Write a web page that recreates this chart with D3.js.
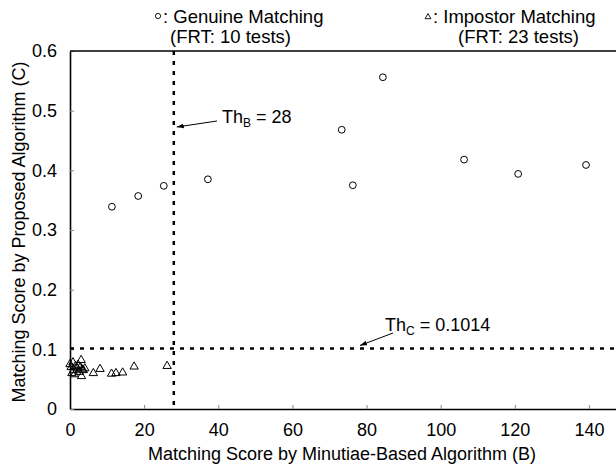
<!DOCTYPE html>
<html>
<head>
<meta charset="utf-8">
<script src="https://cdn.jsdelivr.net/npm/d3@7"></script>
<style>
  html, body { margin: 0; padding: 0; background: #fff; }
  svg { display: block; font-family: "Liberation Sans", Arial, sans-serif; }
</style>
</head>
<body>
<svg id="chart" width="616" height="464"></svg>
<script>
// 真实匹配 (Genuine)
const genuineB = [11.3, 18.4, 25.3, 37.2, 73.3, 76.3, 84.4, 106.3, 120.9, 139.2];
const genuineC = [0.339, 0.357, 0.374, 0.385, 0.468, 0.375, 0.556, 0.418, 0.394, 0.409];

// 冒名匹配 (Impostor)
const impostorB = [0, 0.3, 0.5, 0.8, 1, 1.2, 1.5, 2, 2.2, 2.5, 2.8, 3, 3.1, 3.3, 3.6, 4,
  6.3, 8.1, 11.2, 12.4, 14.2, 17.3, 26.2];
const impostorC = [0.075, 0.07, 0.06, 0.078, 0.065, 0.058, 0.072, 0.068, 0.074, 0.062, 0.07,
  0.082, 0.055, 0.066, 0.065, 0.068, 0.060, 0.067, 0.059, 0.060, 0.061, 0.071, 0.072];

const xTicks = [0, 20, 40, 60, 80, 100, 120, 140];
const yTicks = [0, 0.1, 0.2, 0.3, 0.4, 0.5, 0.6];
const thB = 28;
const thC = 0.1014;

const svg = d3.select('#chart');
const plotLeft = 70, plotTop = 51, plotBottom = 409;
const fontSize = 18;

const xScale = d3.scaleLinear().domain([0, 150]).range([plotLeft, plotLeft + 150 * 3.707]);
const yScale = d3.scaleLinear().domain([0, 0.6]).range([plotBottom, plotTop]);

// 坐标轴 (刻度朝内)
const xAxis = svg.append('g')
  .attr('transform', `translate(0,${plotBottom})`)
  .call(d3.axisBottom(xScale).tickValues(xTicks).tickSizeInner(-4).tickSizeOuter(0).tickPadding(14));
const yAxis = svg.append('g')
  .attr('transform', `translate(${plotLeft},0)`)
  .call(d3.axisLeft(yScale).tickValues(yTicks).tickSizeInner(-4).tickSizeOuter(0).tickPadding(13)
    .tickFormat(d => d === 0 ? '0' : d3.format('.1f')(d)));

[xAxis, yAxis].forEach(a => {
  a.select('.domain').attr('stroke', '#000').attr('stroke-width', 1.6);
  a.selectAll('.tick line').attr('stroke', '#888').attr('stroke-width', 1);
  a.selectAll('.tick text').attr('font-size', fontSize).attr('fill', '#000')
    .attr('font-family', '"Liberation Sans", Arial, sans-serif');
});

// 顶部边框
svg.append('line')
  .attr('x1', plotLeft).attr('x2', 616)
  .attr('y1', plotTop).attr('y2', plotTop)
  .attr('stroke', '#000').attr('stroke-width', 1.6);

// 阈值虚线
svg.append('line')
  .attr('x1', xScale(thB)).attr('x2', xScale(thB))
  .attr('y1', yScale(0.6)).attr('y2', yScale(0))
  .attr('stroke', '#000').attr('stroke-width', 2.5)
  .attr('stroke-dasharray', '4,6');
svg.append('line')
  .attr('x1', xScale(0)).attr('x2', 616)
  .attr('y1', yScale(thC)).attr('y2', yScale(thC))
  .attr('stroke', '#000').attr('stroke-width', 2.5)
  .attr('stroke-dasharray', '4,6');

// 数据点
const genuine = genuineB.map((b, i) => ({ b, c: genuineC[i] }));
const impostor = impostorB.map((b, i) => ({ b, c: impostorC[i] }));

svg.append('g').selectAll('circle')
  .data(genuine)
  .join('circle')
  .attr('cx', d => xScale(d.b))
  .attr('cy', d => yScale(d.c))
  .attr('r', 3.4)
  .attr('fill', 'none')
  .attr('stroke', '#000')
  .attr('stroke-width', 1);

const tri = d3.symbol().type(d3.symbolTriangle).size(30);
svg.append('g').selectAll('path')
  .data(impostor)
  .join('path')
  .attr('d', tri)
  .attr('transform', d => `translate(${xScale(d.b)},${yScale(d.c)})`)
  .attr('fill', 'none')
  .attr('stroke', '#000')
  .attr('stroke-width', 1);

// 箭头
svg.append('defs').append('marker')
  .attr('id', 'arrow')
  .attr('viewBox', '0 0 10 10')
  .attr('refX', 10).attr('refY', 5)
  .attr('markerWidth', 7).attr('markerHeight', 7)
  .attr('orient', 'auto')
  .append('path')
  .attr('d', 'M0,1.5 L10,5 L0,8.5 Z')
  .attr('fill', '#000');

svg.append('line')
  .attr('x1', 217).attr('y1', 121)
  .attr('x2', xScale(thB) + 3).attr('y2', 127)
  .attr('stroke', '#000').attr('stroke-width', 1)
  .attr('marker-end', 'url(#arrow)');
svg.append('line')
  .attr('x1', 393).attr('y1', 333)
  .attr('x2', 360).attr('y2', yScale(thC) - 3)
  .attr('stroke', '#000').attr('stroke-width', 1)
  .attr('marker-end', 'url(#arrow)');

// 标注文字
const thBText = svg.append('text').attr('x', 222).attr('y', 123).attr('font-size', fontSize);
thBText.append('tspan').text('Th');
thBText.append('tspan').text('B').attr('font-size', 12).attr('dy', 4);
thBText.append('tspan').text(' = 28').attr('dy', -4);

const thCText = svg.append('text').attr('x', 385).attr('y', 331).attr('font-size', fontSize);
thCText.append('tspan').text('Th');
thCText.append('tspan').text('C').attr('font-size', 12).attr('dy', 4);
thCText.append('tspan').text(' = 0.1014').attr('dy', -4);

// 图例
svg.append('circle')
  .attr('cx', 158).attr('cy', 16).attr('r', 2.6)
  .attr('fill', 'none').attr('stroke', '#000').attr('stroke-width', 0.9);
svg.append('text').attr('x', 163).attr('y', 23).attr('font-size', 18.5).text(': Genuine Matching');
svg.append('text').attr('x', 170).attr('y', 43).attr('font-size', 18.5).text('(FRT: 10 tests)');

svg.append('path')
  .attr('d', d3.symbol().type(d3.symbolTriangle).size(15))
  .attr('transform', 'translate(428,17)')
  .attr('fill', 'none').attr('stroke', '#000').attr('stroke-width', 0.9);
svg.append('text').attr('x', 433).attr('y', 23).attr('font-size', 18.5).text(': Impostor Matching');
svg.append('text').attr('x', 458).attr('y', 43).attr('font-size', 18.5).text('(FRT: 23 tests)');

// 轴标题
svg.append('text')
  .attr('x', 342).attr('y', 460)
  .attr('text-anchor', 'middle')
  .attr('font-size', fontSize)
  .text('Matching Score by Minutiae-Based Algorithm (B)');
svg.append('text')
  .attr('transform', `translate(25,${(plotTop + plotBottom) / 2 + 2}) rotate(-90)`)
  .attr('text-anchor', 'middle')
  .attr('font-size', fontSize)
  .text('Matching Score by Proposed Algorithm (C)');
</script>
</body>
</html>
